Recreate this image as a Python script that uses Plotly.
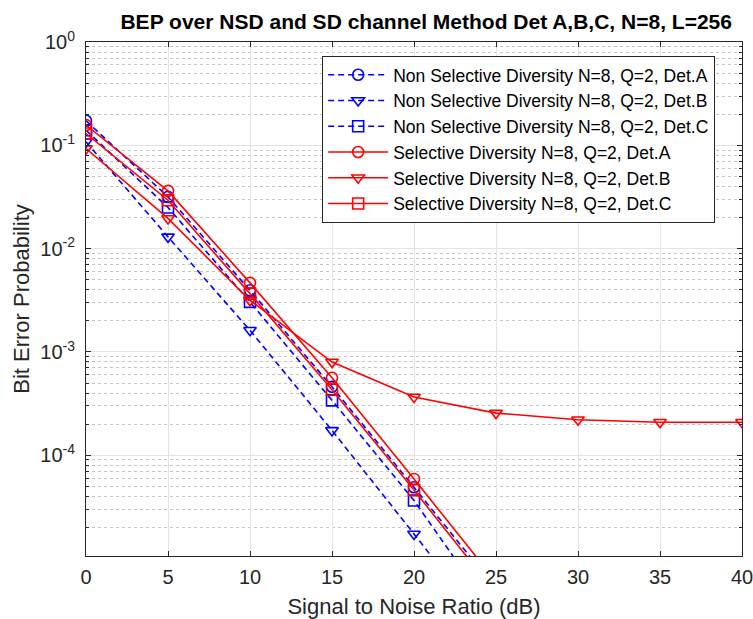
import plotly.graph_objects as go

# ---- data ----
snr_short = [0, 5, 10, 15, 20, 25]
snr_long = [0, 5, 10, 15, 20, 25, 30, 35, 40]

nsd_a = [0.173, 0.0317, 0.00395, 0.00046, 4.9e-5, 5.1e-6]
nsd_b = [0.108, 0.0130, 0.00162, 0.000174, 1.73e-5, 1.7e-6]
nsd_c = [0.140, 0.0250, 0.00305, 0.00034, 3.65e-5, 2.7e-6]
sd_a = [0.157, 0.0362, 0.00466, 0.000563, 5.9e-5, 6.0e-6]
sd_b = [0.093, 0.0196, 0.00316, 0.000798, 0.000366, 0.000256, 0.000221, 0.000209, 0.000209]
sd_c = [0.130, 0.0294, 0.00367, 0.000431, 4.6e-5, 4.6e-6]

names = [
    "Non Selective Diversity N=8, Q=2, Det.A",
    "Non Selective Diversity N=8, Q=2, Det.B",
    "Non Selective Diversity N=8, Q=2, Det.C",
    "Selective Diversity N=8, Q=2, Det.A",
    "Selective Diversity N=8, Q=2, Det.B",
    "Selective Diversity N=8, Q=2, Det.C",
]

x_ticks = [0, 5, 10, 15, 20, 25, 30, 35, 40]
y_exponents = [0, -1, -2, -3, -4]

title_text = "BEP over NSD and SD channel Method Det A,B,C, N=8, L=256"
x_label = "Signal to Noise Ratio (dB)"
y_label = "Bit Error Probability"

# ---- figure ----
BLUE = "#0000ff"
RED = "#ff0000"
FONT = "Liberation Sans, Arial, sans-serif"

series = [
    (snr_short, nsd_a, BLUE, "dash", "circle-open"),
    (snr_short, nsd_b, BLUE, "dash", "triangle-down-open"),
    (snr_short, nsd_c, BLUE, "dash", "square-open"),
    (snr_short, sd_a, RED, "solid", "circle-open"),
    (snr_long, sd_b, RED, "solid", "triangle-down-open"),
    (snr_short, sd_c, RED, "solid", "square-open"),
]

fig = go.Figure()
for (xs, ys, col, dash, sym), nm in zip(series, names):
    fig.add_trace(go.Scatter(
        x=xs, y=ys, name=nm, mode="lines+markers",
        line=dict(color=col, width=1.6, dash="6px,4px" if dash == "dash" else "solid"),
        marker=dict(symbol=sym, size=11, color=col, line=dict(color=col, width=1.6)),
    ))

y_tickvals = [10.0 ** e for e in y_exponents]
y_ticktext = ["10<sup>%d</sup>" % e for e in y_exponents]
minor_vals = [k * 10.0 ** e for e in range(-6, 0) for k in range(2, 10)]

axis_col = "#262626"
grid_col = "#e3e3e3"

fig.update_layout(
    width=753, height=619,
    margin=dict(l=86, r=11, t=42, b=63),
    paper_bgcolor="white", plot_bgcolor="white",
    font=dict(family=FONT, size=20, color="#262626"),
    title=dict(text="<b>" + title_text + "</b>", x=0.566, xanchor="center",
               y=1 - 22 / 619, yanchor="middle",
               font=dict(size=21, color="#000000")),
    showlegend=True,
    legend=dict(
        x=0.36, y=0.973, xanchor="left", yanchor="top",
        bgcolor="white", bordercolor=axis_col, borderwidth=1,
        font=dict(size=17.5, color="#000000"),
        itemwidth=60,
    ),
)

fig.update_xaxes(
    automargin=False,
    range=[0, 40], tickvals=x_ticks, ticktext=[str(v) for v in x_ticks],
    showline=True, linecolor=axis_col, linewidth=1, mirror="ticks",
    ticks="inside", ticklen=5, tickcolor=axis_col,
    showgrid=True, gridcolor=grid_col, gridwidth=1, zeroline=False,
    title=dict(text=x_label, font=dict(size=22), standoff=12),
    tickfont=dict(size=20), ticklabeloverflow="allow",
    ticklabelstandoff=3,
)
fig.update_yaxes(
    automargin=False,
    type="log", range=[-4.975, 0],
    tickvals=y_tickvals, ticktext=y_ticktext,
    showline=True, linecolor=axis_col, linewidth=1, mirror="ticks",
    ticks="inside", ticklen=5, tickcolor=axis_col,
    showgrid=True, gridcolor=grid_col, gridwidth=1, zeroline=False,
    minor=dict(tickvals=minor_vals, showgrid=True, gridcolor="#c4c4c4",
               griddash="dot", gridwidth=1, ticks="inside", ticklen=3,
               tickcolor=axis_col),
    title=dict(text=y_label, font=dict(size=22), standoff=4),
    tickfont=dict(size=20), ticklabeloverflow="allow",
    ticklabelstandoff=6,
)

fig.write_html("out.html")
